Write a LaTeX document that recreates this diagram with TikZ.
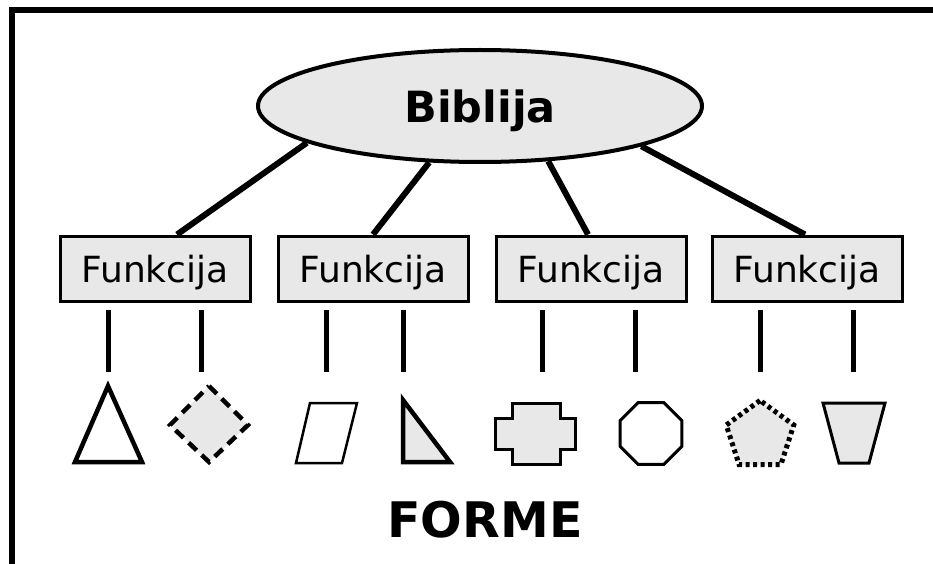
\documentclass[tikz,border=0pt]{standalone}
\usepackage{fontspec}
\setsansfont{DejaVu Sans}
\usetikzlibrary{shapes.geometric}
\definecolor{shade}{HTML}{E8E8E8}

\begin{document}
\begin{tikzpicture}[x=1pt,y=-1pt]

\tikzset{line/.style={draw,line width=6pt}}
\tikzset{stub/.style={draw,line width=5pt}}
\tikzset{box/.style={draw,line width=3pt,fill=shade,minimum width=190pt,minimum height=65pt,inner sep=0pt,text depth=0pt,font=\sffamily\fontsize{36}{40}\selectfont}}
\tikzset{form/.style={draw,line join=miter}}

\useasboundingbox (0,0) rectangle (933,564);

% frame
\draw[line width=6pt,line join=miter] (12,600) -- (12,10) -- (960,10);

% top
\node[ellipse,draw,line width=4pt,fill=shade,minimum width=444pt,minimum height=112pt,inner sep=0pt,text depth=0pt,
      font=\sffamily\bfseries\fontsize{43}{46}\selectfont] (bib) at (480,106) {Biblija};

\node[box] (f1) at (155,268.5) {Funkcija};
\node[box] (f2) at (373,268.5) {Funkcija};
\node[box] (f3) at (591,268.5) {Funkcija};
\node[box] (f4) at (807,268.5) {Funkcija};

\path[line] (bib.192) to ([xshift=22pt]f1.north);
\path[line] (bib.228) to (f2.north);
\path[line] (bib.321) to ([xshift=-3pt]f3.north);
\path[line] (bib.346) to ([xshift=-2pt]f4.north);

% stubs
\foreach \i/\x in {1/108,2/201,3/326,4/403,5/542,6/635,7/760,8/853} {
  \coordinate (u\i) at (\x,310);
  \coordinate (d\i) at (\x,372);
  \path[stub] (u\i) to (d\i);
}

% forms
\draw[form,line width=4.5pt,fill=white] (108,386) -- (142,462) -- (75,462) -- cycle;
\draw[form,line width=4.5pt,fill=shade,dash pattern=on 11pt off 7pt] (209,386) -- (248,425) -- (209,462) -- (170,425) -- cycle;
\draw[form,line width=2.5pt,fill=white] (310,403) -- (357,403) -- (342,463) -- (296,463) -- cycle;
\draw[form,line width=4.5pt,fill=shade] (403,400) -- (450,462) -- (403,462) -- cycle;
\draw[form,line width=3pt,fill=shade] (512,403) -- (560,403) -- (560,418) -- (575,418) -- (575,449) -- (560,449)
  -- (560,464) -- (512,464) -- (512,449) -- (495,449) -- (495,418) -- (512,418) -- cycle;
\node[regular polygon,regular polygon sides=8,draw,line width=3pt,fill=white,minimum size=67pt,inner sep=0pt] (oct) at (651,433.5) {};
\node[regular polygon,regular polygon sides=5,draw,line width=5pt,fill=shade,minimum size=71pt,inner sep=0pt,
      dash pattern=on 4pt off 3.5pt] (pent) at (760,436) {};
\draw[form,line width=3pt,fill=shade] (823,403) -- (885,403) -- (869,463) -- (839,463) -- cycle;

\node[font=\sffamily\bfseries\fontsize{49}{52}\selectfont] (forme) at (485,520) {FORME};

\end{tikzpicture}
\end{document}
